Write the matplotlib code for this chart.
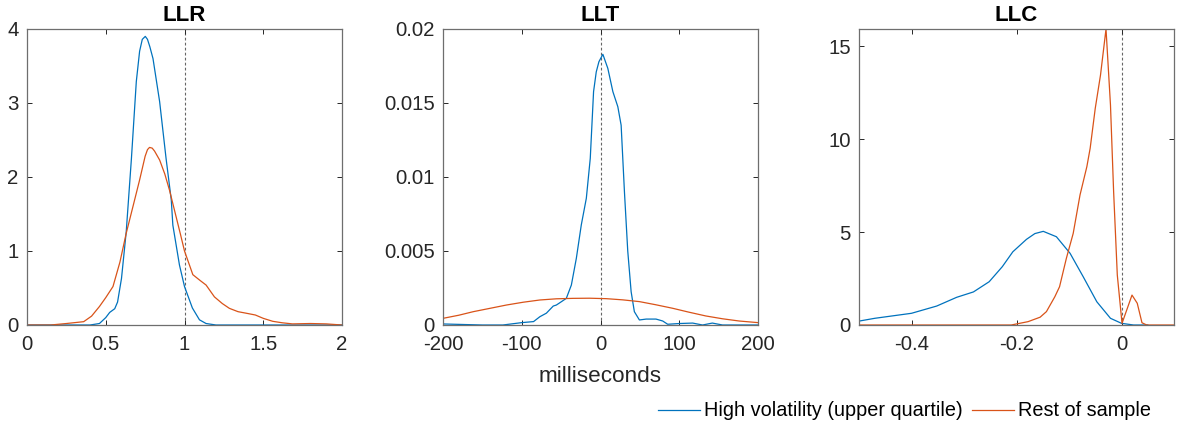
import matplotlib
matplotlib.use("Agg")
import matplotlib.pyplot as plt
import numpy as np

plt.rcParams['font.family'] = ['Liberation Sans', 'DejaVu Sans']

BLUE = '#0072BD'
ORANGE = '#D95319'

# ---- LLR panel (kernel densities) ----
llr_hi_x = [0.0, 0.40, 0.46, 0.50, 0.525, 0.557, 0.575, 0.60, 0.63, 0.663, 0.694, 0.715, 0.732, 0.751,
            0.765, 0.78, 0.80, 0.842, 0.883, 0.916, 0.926, 0.968, 1.0, 1.05, 1.095, 1.137, 1.2, 1.5, 2.0]
llr_hi_y = [0.0, 0.0, 0.02, 0.10, 0.17, 0.22, 0.31, 0.63, 1.26, 2.25, 3.29, 3.70, 3.86, 3.90,
            3.86, 3.76, 3.60, 3.02, 2.25, 1.69, 1.35, 0.81, 0.52, 0.23, 0.07, 0.02, 0.0, 0.0, 0.0]
llr_rest_x = [0.0, 0.15, 0.25, 0.36, 0.41, 0.46, 0.50, 0.546, 0.59, 0.63, 0.675, 0.715, 0.75, 0.765,
              0.778, 0.795, 0.81, 0.842, 0.875, 0.905, 0.947, 0.975, 1.0, 1.053, 1.10, 1.137, 1.19,
              1.24, 1.285, 1.34, 1.39, 1.45, 1.50, 1.56, 1.62, 1.685, 1.80, 1.9, 2.0]
llr_rest_y = [0.0, 0.0, 0.02, 0.045, 0.12, 0.25, 0.37, 0.52, 0.85, 1.24, 1.62, 1.96, 2.28, 2.37,
              2.40, 2.39, 2.35, 2.23, 2.04, 1.82, 1.46, 1.22, 1.00, 0.68, 0.60, 0.54, 0.38,
              0.29, 0.225, 0.18, 0.16, 0.135, 0.09, 0.05, 0.03, 0.015, 0.02, 0.015, 0.0]

# ---- LLT panel (milliseconds) ----
llt_hi_x = [-200, -150, -124, -100, -85, -77, -68.7, -60, -56, -49.8, -43.4, -37, -30.7, -24.4, -18, -13,
            -8.8, -5.4, -2, 3, 9.3, 15.7, 22, 26.2, 30.4, 34.6, 38.9, 43, 49.4, 58, 70.5, 79, 85.3,
            100, 117, 129.6, 142, 155, 200]
llt_hi_y = [0.00007, 0.0, 0.0, 0.00016, 0.00023, 0.00056, 0.0008, 0.00128, 0.00135, 0.00157, 0.0018, 0.0027,
            0.0045, 0.00676, 0.00856, 0.01126, 0.01577, 0.0171, 0.01779, 0.01829, 0.01734, 0.01577,
            0.01475, 0.0135, 0.009, 0.005, 0.00225, 0.0009, 0.00034, 0.0004, 0.0004, 0.00027, 0.00005,
            0.0001, 0.00013, 0.0, 0.00013, 0.0, 0.0]
llt_rest_x = [-200, -180, -161.6, -140, -119.4, -98, -77, -56, -35, -14, 7.2, 28, 49.4, 70, 91.6,
              112, 133.8, 155, 176, 200]
llt_rest_y = [0.00045, 0.00066, 0.0009, 0.00113, 0.00135, 0.00154, 0.00169, 0.00177, 0.0018, 0.00181,
              0.00178, 0.0017, 0.00158, 0.00137, 0.00113, 0.00087, 0.00061, 0.00042, 0.00027, 0.00016]

# ---- LLC panel ----
llc_hi_x = [-0.506, -0.47, -0.40, -0.352, -0.314, -0.282, -0.252, -0.227, -0.207, -0.181, -0.165,
            -0.149, -0.124, -0.098, -0.073, -0.047, -0.021, 0.0, 0.023, 0.05]
llc_hi_y = [0.18, 0.36, 0.63, 1.02, 1.49, 1.78, 2.33, 3.14, 3.94, 4.61, 4.92,
            5.04, 4.75, 3.86, 2.60, 1.25, 0.36, 0.09, 0.0, 0.0]
llc_rest_x = [-0.506, -0.21, -0.178, -0.155, -0.143, -0.127, -0.118, -0.105, -0.092, -0.079, -0.066,
              -0.0597, -0.05, -0.04, -0.0295, -0.021, -0.015, -0.008, 0.001, 0.02, 0.03, 0.039,
              0.048, 0.101]
llc_rest_y = [0.0, 0.0, 0.18, 0.42, 0.72, 1.52, 2.06, 3.59, 4.93, 7.0, 8.52,
              9.51, 11.66, 13.45, 15.93, 11.84, 7.17, 2.69, 0.09, 1.61, 1.17, 0.12,
              0.0, 0.0]

panels = [
    dict(title='LLR', hi=(llr_hi_x, llr_hi_y), rest=(llr_rest_x, llr_rest_y), vline=1,
         xlim=(0, 2), ylim=(0, 4), xticks=[0, 0.5, 1, 1.5, 2], yticks=[0, 1, 2, 3, 4],
         xtl=['0', '0.5', '1', '1.5', '2'], ytl=['0', '1', '2', '3', '4'], left=27),
    dict(title='LLT', hi=(llt_hi_x, llt_hi_y), rest=(llt_rest_x, llt_rest_y), vline=0,
         xlim=(-200, 200), ylim=(0, 0.02), xticks=[-200, -100, 0, 100, 200],
         yticks=[0, 0.005, 0.01, 0.015, 0.02],
         xtl=['-200', '-100', '0', '100', '200'], ytl=['0', '0.005', '0.01', '0.015', '0.02'],
         left=443, xlabel='milliseconds'),
    dict(title='LLC', hi=(llc_hi_x, llc_hi_y), rest=(llc_rest_x, llc_rest_y), vline=0,
         xlim=(-0.5, 0.1), ylim=(0, max(llc_rest_y)), xticks=[-0.4, -0.2, 0], yticks=[0, 5, 10, 15],
         xtl=['-0.4', '-0.2', '0'], ytl=['0', '5', '10', '15'], left=859),
]

W, H = 1180, 437
fig = plt.figure(figsize=(W / 100, H / 100), dpi=100)

for p in panels:
    ax = fig.add_axes([p['left'] / W, (H - 325) / H, 315 / W, 296 / H])
    l1, = ax.plot(*p['hi'], color=BLUE, lw=0.9, label='High volatility (upper quartile)')
    l2, = ax.plot(*p['rest'], color=ORANGE, lw=0.9, label='Rest of sample')
    ax.axvline(p['vline'], color='#666666', lw=0.8, linestyle=(0, (2.5, 2)), zorder=0)
    ax.set_xlim(*p['xlim'])
    ax.set_ylim(*p['ylim'])
    ax.set_xticks(p['xticks'])
    ax.set_xticklabels(p['xtl'])
    ax.set_yticks(p['yticks'])
    ax.set_yticklabels(p['ytl'])
    ax.tick_params(direction='in', length=3.5, width=0.7, top=True, right=True,
                   labelsize=14.7, colors='#262626')
    ax.tick_params(axis='x', pad=7)
    ax.tick_params(axis='y', pad=6)
    for s in ax.spines.values():
        s.set_color('#6e6e6e')
        s.set_linewidth(0.9)
    ax.set_title(p['title'], fontsize=16, fontweight='bold', pad=6)
    if 'xlabel' in p:
        ax.set_xlabel(p['xlabel'], fontsize=16.2, color='#262626', labelpad=9)

fig.legend(handles=[l1, l2], loc='center right', bbox_to_anchor=(1161 / W, (H - 411) / H),
           ncol=2, frameon=False, fontsize=14.3, handlelength=2.1, handletextpad=0.2,
           columnspacing=0.5, borderpad=0)

fig.savefig('out.png', dpi=100)
